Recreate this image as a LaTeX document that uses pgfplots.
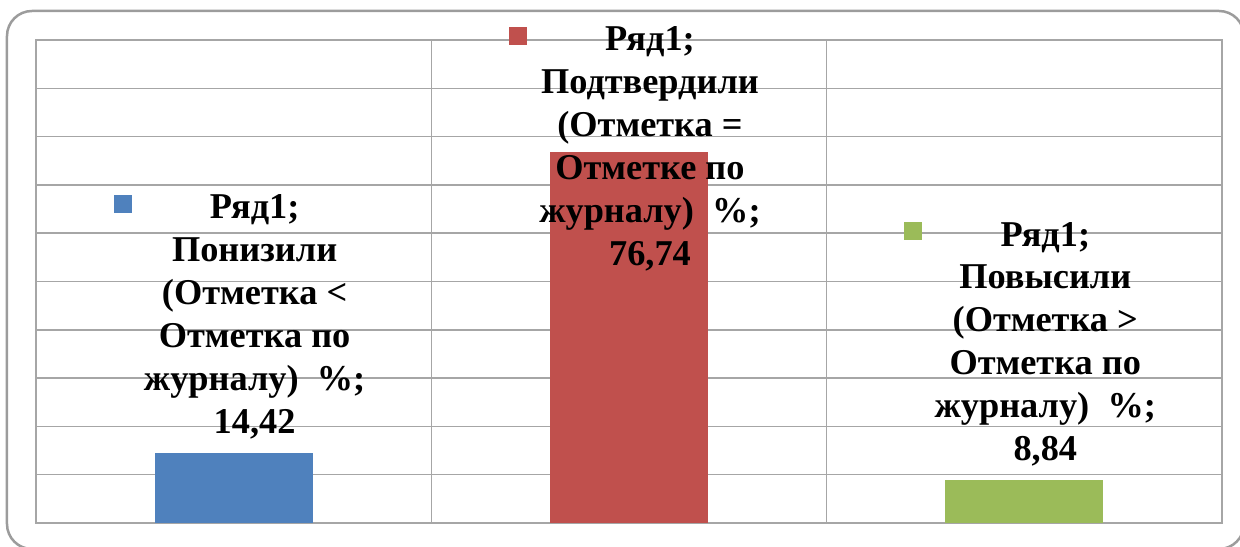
\documentclass[border=0pt]{standalone}
\usepackage{pgfplots}
\pgfplotsset{compat=1.18}
\usepackage{fontspec}
\setmainfont{Liberation Serif}
\definecolor{gridgray}{HTML}{A6A6A6}
\definecolor{framegray}{HTML}{9C9C9C}
\definecolor{cblue}{HTML}{4F81BD}
\definecolor{cred}{HTML}{C0504D}
\definecolor{cgreen}{HTML}{9BBB59}
\begin{document}
\begin{tikzpicture}
\useasboundingbox (-21.6pt,-14.4pt) rectangle (722.4pt,313.8pt);
\draw[framegray, line width=1.5pt, rounded corners=15pt] (-17.4pt,-15.6pt) rectangle (724.8pt,307.2pt);
\begin{axis}[
  at={(0pt,0pt)}, anchor=south west,
  width=711.6pt, height=289.8pt, scale only axis,
  xmin=-0.5, xmax=2.5, ymin=0, ymax=100,
  ytick={0,10,...,100}, yticklabels={},
  xtick={0.5,1.5}, xticklabels={},
  major tick length=0pt,
  ymajorgrids, xmajorgrids,
  grid style={gridgray, line width=0.9pt},
  axis line style={gridgray, line width=0.9pt},
  clip=false,
]
\addplot[ybar, bar width=0.4, bar shift=0pt, fill=cblue, draw=none] coordinates {(0,14.42)};
\addplot[ybar, bar width=0.4, bar shift=0pt, fill=cred, draw=none] coordinates {(1,76.74)};
\addplot[ybar, bar width=0.4, bar shift=0pt, fill=cgreen, draw=none] coordinates {(2,8.84)};
\tikzset{lbl/.style={anchor=base, align=center, inner sep=0pt, font=\fontsize{21.8}{25.7}\selectfont\bfseries}}
\node[lbl] at (axis cs:0.053,18.6) {Ряд1;\\Понизили\\(Отметка <\\Отметка по\\журналу)\ \ \%;\\14,42};
\node[lbl] at (axis cs:1.053,53.4) {Ряд1;\\Подтвердили\\(Отметка =\\Отметке по\\журналу)\ \ \%;\\76,74};
\node[lbl] at (axis cs:2.053,13.0) {Ряд1;\\Повысили\\(Отметка >\\Отметка по\\журналу)\ \ \%;\\8,84};
\node[fill=cblue, minimum size=10.8pt, inner sep=0pt] at ([xshift=-79.2pt,yshift=137.5pt]axis cs:0.053,18.6) {};
\node[fill=cred, minimum size=10.8pt, inner sep=0pt] at ([xshift=-79.2pt,yshift=137.5pt]axis cs:1.053,53.4) {};
\node[fill=cgreen, minimum size=10.8pt, inner sep=0pt] at ([xshift=-79.2pt,yshift=137.5pt]axis cs:2.053,13.0) {};
\end{axis}
\end{tikzpicture}
\end{document}
